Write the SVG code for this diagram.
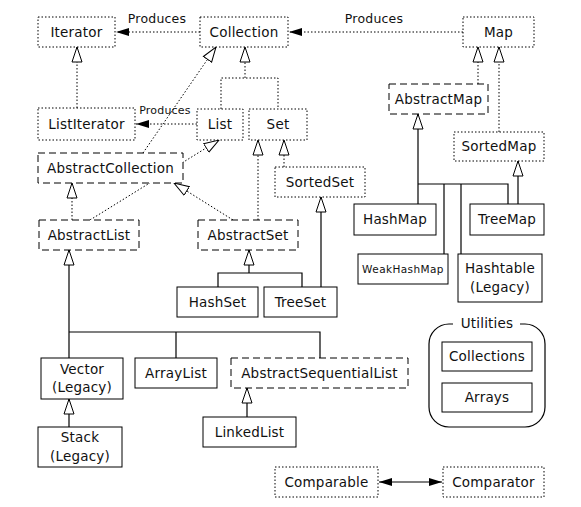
<svg xmlns="http://www.w3.org/2000/svg" width="581" height="507" viewBox="0 0 581 507">
<style>
text{font-family:"DejaVu Sans",Verdana,sans-serif;font-size:13.5px;fill:#111;text-anchor:middle;letter-spacing:0.2px}
.sm{font-size:12.5px}
.xs{font-size:11px}
.wh{font-size:10.5px;letter-spacing:0.4px}
.dot{fill:#fff;stroke:#000;stroke-width:1;stroke-dasharray:1.5,2}
.dash{fill:#fff;stroke:#000;stroke-width:1;stroke-dasharray:7,4}
.sol{fill:#fff;stroke:#000;stroke-width:1}
.ld{fill:none;stroke:#000;stroke-width:1;stroke-dasharray:1.5,2}
.ls{fill:none;stroke:#000;stroke-width:1.2}
.inh{marker-end:url(#tri)}
.prod{marker-end:url(#fill)}
</style>
<defs>
<marker id="tri" markerUnits="userSpaceOnUse" markerWidth="17" markerHeight="12" viewBox="0 -6 17 12" refX="15.5" refY="0" orient="auto">
<path d="M0.5,-5 L15.5,0 L0.5,5 Z" fill="#fff" stroke="#000" stroke-width="1" stroke-dasharray="none"/>
</marker>
<marker id="fill" markerUnits="userSpaceOnUse" markerWidth="14" markerHeight="10" viewBox="0 -5 14 10" refX="13" refY="0" orient="auto">
<path d="M0,-4 L13,0 L0,4 Z" fill="#000" stroke="none"/>
</marker>
<marker id="fillS" markerUnits="userSpaceOnUse" markerWidth="14" markerHeight="10" viewBox="0 -5 14 10" refX="1" refY="0" orient="auto">
<path d="M14,-4 L1,0 L14,4 Z" fill="#000" stroke="none"/>
</marker>
</defs>
<rect width="581" height="507" fill="#fff"/>
<g id="connectors">
<line class="ld prod" x1="200" y1="32" x2="116" y2="32"/>
<line class="ld prod" x1="463" y1="32" x2="289" y2="32"/>
<line class="ld prod" x1="197" y1="124" x2="136" y2="124"/>
<line class="ld inh" x1="77" y1="108" x2="77" y2="47"/>
<polyline class="ld" points="221,109 221,78 278,78 278,109"/>
<line class="ld inh" x1="245" y1="78" x2="245" y2="47"/>
<line class="ld inh" x1="143" y1="153" x2="216" y2="47"/>
<line class="ld inh" x1="90" y1="220" x2="219" y2="140"/>
<line class="ld inh" x1="72" y1="220" x2="72" y2="183"/>
<line class="ld inh" x1="233" y1="220" x2="174" y2="183"/>
<line class="ld inh" x1="258" y1="220" x2="258" y2="140"/>
<line class="ld inh" x1="284" y1="167" x2="284" y2="140"/>
<polyline class="ls" points="218,287 218,273 302,273 302,287"/>
<line class="ls inh" x1="249" y1="273" x2="249" y2="250"/>
<line class="ls inh" x1="321" y1="287" x2="321" y2="197"/>
<line class="ld inh" x1="478" y1="84" x2="478" y2="47"/>
<line class="ld inh" x1="499" y1="132" x2="499" y2="47"/>
<line class="ls inh" x1="418" y1="204" x2="418" y2="114"/>
<polyline class="ls" points="418,184 508,184 508,204"/>
<line class="ls" x1="444" y1="184" x2="444" y2="254"/>
<line class="ls" x1="461" y1="184" x2="461" y2="254"/>
<line class="ls inh" x1="518" y1="204" x2="518" y2="161"/>
<line class="ls inh" x1="69" y1="358" x2="69" y2="250"/>
<polyline class="ls" points="69,332 320,332 320,358"/>
<line class="ls" x1="176" y1="332" x2="176" y2="358"/>
<line class="ls inh" x1="247" y1="417" x2="247" y2="388"/>
<line class="ls inh" x1="69" y1="427" x2="69" y2="399"/>
<line class="ls" x1="379" y1="482" x2="442" y2="482" marker-start="url(#fillS)" marker-end="url(#fill)"/>
</g>
<g id="labels">
<text class="sm" x="157" y="23">Produces</text>
<text class="sm" x="374" y="23">Produces</text>
<text class="xs" x="165" y="114">Produces</text>
</g>
<g id="Iterator"><rect class="dot" x="38" y="17" width="77" height="30"/><text x="76.5" y="37">Iterator</text></g>
<g id="Collection"><rect class="dot" x="200" y="17" width="88" height="30"/><text x="244" y="37">Collection</text></g>
<g id="Map"><rect class="dot" x="463" y="17" width="71" height="30"/><text x="498.5" y="37">Map</text></g>
<g id="ListIterator"><rect class="dot" x="38" y="108" width="97" height="32"/><text x="86.5" y="129">ListIterator</text></g>
<g id="List"><rect class="dot" x="197" y="109" width="46" height="31"/><text x="220" y="129">List</text></g>
<g id="Set"><rect class="dot" x="249" y="109" width="58" height="31"/><text x="278" y="129">Set</text></g>
<g id="AbstractMap"><rect class="dash" x="389" y="84" width="99" height="30"/><text x="438.5" y="104">AbstractMap</text></g>
<g id="SortedMap"><rect class="dot" x="454" y="132" width="90" height="29"/><text x="499" y="151">SortedMap</text></g>
<g id="AbstractCollection"><rect class="dash" x="38" y="153" width="145" height="30"/><text x="110.5" y="173">AbstractCollection</text></g>
<g id="SortedSet"><rect class="dot" x="275" y="167" width="90" height="30"/><text x="320" y="187">SortedSet</text></g>
<g id="AbstractList"><rect class="dash" x="39" y="220" width="100" height="30"/><text x="89" y="240">AbstractList</text></g>
<g id="AbstractSet"><rect class="dash" x="198" y="220" width="100" height="30"/><text x="248" y="240">AbstractSet</text></g>
<g id="HashSet"><rect class="sol" x="177" y="287" width="81" height="30"/><text x="217.5" y="307">HashSet</text></g>
<g id="TreeSet"><rect class="sol" x="264" y="287" width="73" height="30"/><text x="300.5" y="307">TreeSet</text></g>
<g id="HashMap"><rect class="sol" x="354" y="204" width="82" height="31"/><text x="395" y="224">HashMap</text></g>
<g id="TreeMap"><rect class="sol" x="470" y="204" width="74" height="31"/><text x="507" y="224">TreeMap</text></g>
<g id="WeakHashMap"><rect class="sol" x="358" y="254" width="90" height="30"/><text class="wh" x="403" y="273">WeakHashMap</text></g>
<g id="Hashtable"><rect class="sol" x="458" y="254" width="84" height="48"/><text x="500" y="273">Hashtable</text><text x="500" y="292">(Legacy)</text></g>
<g id="Utilities"><path class="ls" d="M453,324 H449 A20,20 0 0 0 429,344 V407 A20,20 0 0 0 449,427 H525 A20,20 0 0 0 545,407 V344 A20,20 0 0 0 525,324 H520"/><text x="487" y="328">Utilities</text></g>
<g id="Collections"><rect class="sol" x="442" y="342" width="90" height="29"/><text x="487" y="361">Collections</text></g>
<g id="Arrays"><rect class="sol" x="442" y="383" width="90" height="29"/><text x="487" y="402">Arrays</text></g>
<g id="Vector"><rect class="sol" x="41" y="358" width="82" height="41"/><text x="82" y="374">Vector</text><text x="82" y="392">(Legacy)</text></g>
<g id="ArrayList"><rect class="sol" x="135" y="358" width="82" height="30"/><text x="176" y="378">ArrayList</text></g>
<g id="AbstractSequentialList"><rect class="dash" x="231" y="358" width="177" height="30"/><text x="319.5" y="378">AbstractSequentialList</text></g>
<g id="LinkedList"><rect class="sol" x="203" y="417" width="93" height="30"/><text x="249.5" y="437">LinkedList</text></g>
<g id="Stack"><rect class="sol" x="38" y="427" width="84" height="40"/><text x="80" y="442">Stack</text><text x="80" y="461">(Legacy)</text></g>
<g id="Comparable"><rect class="dot" x="275" y="467" width="103" height="30"/><text x="326.5" y="487">Comparable</text></g>
<g id="Comparator"><rect class="dot" x="443" y="467" width="101" height="30"/><text x="493.5" y="487">Comparator</text></g>
</svg>
